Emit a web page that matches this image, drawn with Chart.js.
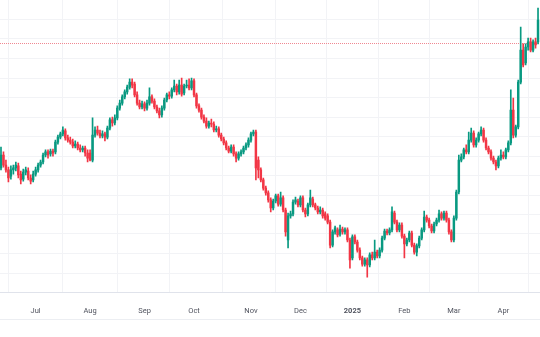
<!DOCTYPE html>
<html>
<head>
<meta charset="utf-8">
<title>Daily candles</title>
<script src="https://cdn.jsdelivr.net/npm/chart.js@4.4.1/dist/chart.umd.min.js"></script>
<style>
  html, body { margin: 0; padding: 0; background: #ffffff; }
  #wrap { width: 540px; height: 337px; }
</style>
</head>
<body>
<div id="wrap"><canvas id="chart" width="540" height="337"></canvas></div>
<script>
// One candle per trading day, mid-June 2024 -> mid-April 2025
const opens = [
  112.6, 115.9, 113.3, 112.1, 110.5, 112.1, 112.6, 113.1, 111.0, 109.7,
  111.5, 111.8, 110.0, 109.5, 111.0, 112.1, 113.3, 114.1, 115.9, 116.7,
  116.2, 116.9, 116.7, 119.2, 120.5, 121.3, 122.1, 120.3, 119.7, 119.2,
  118.2, 118.7, 117.7, 117.2, 117.7, 116.4, 116.4, 114.6, 121.0, 122.3,
  121.5, 120.8, 121.3, 120.5, 122.8, 124.9, 124.1, 125.4, 127.9, 129.2,
  130.8, 132.1, 133.3, 134.6, 134.1, 131.3, 129.2, 128.2, 129.0, 127.9,
  129.2, 130.8, 129.7, 128.2, 127.2, 126.2, 127.9, 130.0, 131.3, 131.0,
  132.6, 133.6, 132.1, 133.8, 131.8, 133.6, 133.8, 133.1, 134.9, 131.3,
  128.5, 127.4, 125.6, 124.6, 123.3, 124.1, 123.8, 122.3, 122.6, 121.0,
  120.0, 119.0, 117.7, 116.9, 117.9, 116.2, 115.1, 116.2, 116.7, 117.7,
  118.5, 119.7, 121.3, 121.8, 114.6, 112.1, 109.5, 107.4, 106.2, 104.4,
  102.3, 104.1, 105.4, 103.3, 104.9, 101.8, 94.1, 100.3, 100.8, 103.8,
  104.1, 103.1, 104.9, 101.8, 100.8, 103.1, 104.6, 103.1, 102.3, 101.3,
  101.8, 100.8, 100.3, 98.7, 92.8, 96.2, 96.7, 95.6, 96.9, 96.2,
  96.7, 94.1, 89.5, 94.9, 93.6, 91.5, 89.5, 87.9, 89.0, 87.7,
  90.3, 89.5, 91.0, 90.0, 91.5, 94.6, 96.4, 95.9, 96.7, 101.0,
  98.7, 96.7, 97.9, 95.1, 93.1, 94.1, 95.9, 92.8, 91.0, 92.6,
  94.6, 96.7, 100.0, 99.2, 97.7, 96.4, 98.2, 99.2, 100.8, 99.7,
  101.0, 99.2, 96.2, 94.1, 99.7, 106.4, 114.6, 115.4, 117.2, 116.7,
  119.7, 121.5, 118.5, 119.7, 121.3, 122.3, 119.7, 117.7, 116.7, 115.1,
  114.1, 113.1, 115.1, 115.9, 115.4, 117.2, 119.0, 127.4, 121.0, 123.1,
  134.6, 142.8, 139.5, 143.6, 144.9, 142.8, 144.9, 144.9
];
const highs = [
  117.9, 116.7, 114.6, 112.8, 113.1, 113.3, 114.1, 113.8, 111.8, 112.3,
  112.8, 112.6, 110.8, 111.8, 112.8, 113.8, 114.6, 116.4, 117.2, 117.2,
  117.4, 117.4, 119.7, 121.0, 121.8, 123.1, 122.6, 121.0, 120.5, 120.0,
  119.5, 119.2, 118.5, 118.2, 118.2, 117.2, 117.2, 125.4, 123.1, 123.3,
  122.3, 122.1, 121.8, 123.3, 125.4, 125.6, 126.2, 128.5, 130.0, 131.3,
  132.6, 133.8, 135.4, 135.4, 134.6, 132.1, 130.0, 129.7, 129.5, 130.0,
  133.1, 131.3, 130.3, 128.7, 127.9, 128.5, 130.5, 131.8, 132.1, 133.1,
  135.1, 134.1, 135.1, 135.6, 134.1, 135.1, 135.4, 135.6, 135.4, 131.8,
  129.0, 127.9, 126.2, 125.4, 124.6, 125.1, 124.4, 123.3, 123.1, 121.5,
  120.5, 119.5, 118.2, 118.5, 118.5, 116.7, 116.7, 117.2, 118.2, 119.0,
  120.3, 121.8, 122.3, 122.3, 115.4, 112.6, 110.0, 107.9, 106.7, 104.9,
  104.6, 105.9, 105.9, 106.4, 105.4, 102.3, 101.0, 101.5, 104.4, 105.1,
  104.6, 105.4, 105.4, 102.3, 103.6, 106.9, 105.1, 103.6, 102.8, 102.6,
  102.3, 101.3, 100.8, 99.2, 96.7, 97.7, 97.2, 97.9, 97.4, 97.2,
  97.2, 94.6, 95.4, 95.4, 94.1, 92.1, 90.0, 89.5, 89.5, 90.8,
  91.0, 94.1, 91.5, 92.1, 95.1, 96.9, 96.9, 97.2, 102.6, 101.5,
  99.2, 98.5, 98.5, 95.6, 94.6, 96.4, 96.4, 93.3, 93.1, 95.1,
  97.2, 101.5, 100.5, 99.7, 98.2, 98.7, 99.7, 101.8, 101.3, 101.5,
  101.5, 99.7, 96.7, 100.3, 106.9, 115.9, 116.2, 117.7, 118.5, 121.8,
  122.8, 122.1, 120.3, 121.8, 123.1, 122.8, 120.3, 118.2, 117.2, 115.6,
  114.6, 115.6, 117.2, 116.7, 117.7, 119.5, 132.6, 130.5, 123.6, 135.1,
  148.7, 144.4, 144.4, 145.9, 145.9, 145.4, 145.9, 153.6
];
const lows = [
  112.1, 112.8, 111.5, 109.0, 109.7, 111.0, 111.8, 110.0, 108.5, 109.2,
  110.8, 109.5, 108.5, 109.0, 110.5, 111.5, 112.8, 113.6, 115.4, 115.1,
  115.6, 115.6, 116.2, 118.7, 120.0, 120.8, 119.7, 119.2, 118.7, 117.7,
  117.7, 117.2, 116.7, 116.7, 115.6, 114.1, 114.4, 114.1, 120.5, 121.0,
  120.3, 120.3, 119.5, 120.0, 122.3, 123.3, 123.6, 124.9, 127.4, 128.7,
  130.3, 131.5, 132.8, 133.1, 130.8, 128.7, 127.7, 127.7, 127.2, 127.4,
  128.7, 129.2, 127.7, 126.7, 125.4, 125.6, 127.4, 129.5, 130.3, 130.5,
  132.1, 131.3, 131.5, 131.0, 131.3, 133.1, 132.6, 132.6, 130.8, 127.9,
  126.9, 125.1, 124.1, 122.8, 122.8, 123.1, 121.8, 121.8, 120.5, 119.5,
  118.5, 117.2, 116.4, 116.4, 115.6, 114.1, 114.6, 115.6, 116.2, 117.2,
  117.9, 119.2, 120.8, 109.5, 110.0, 109.0, 106.9, 105.6, 103.8, 101.3,
  101.8, 103.6, 102.8, 102.8, 101.3, 95.1, 92.1, 99.7, 100.3, 103.3,
  102.6, 102.6, 101.3, 100.0, 100.3, 102.6, 102.6, 101.8, 100.8, 100.8,
  99.7, 99.2, 98.2, 92.1, 92.3, 95.6, 94.9, 95.1, 95.6, 95.6,
  93.6, 86.9, 89.0, 93.1, 91.0, 89.0, 87.4, 87.4, 84.6, 87.2,
  89.0, 89.0, 89.5, 89.5, 91.0, 94.1, 95.4, 95.4, 96.2, 98.2,
  96.2, 96.2, 94.6, 89.5, 92.6, 93.6, 92.3, 90.5, 90.0, 92.1,
  94.1, 96.2, 98.7, 97.2, 95.9, 95.9, 97.7, 98.7, 99.2, 99.2,
  98.7, 95.6, 93.6, 93.6, 99.2, 105.9, 114.1, 114.9, 116.2, 116.2,
  119.2, 117.9, 117.9, 119.2, 120.8, 119.2, 117.2, 116.2, 114.6, 113.6,
  112.1, 112.6, 114.6, 114.9, 114.9, 116.7, 118.5, 120.3, 120.5, 122.6,
  134.1, 138.5, 139.0, 142.8, 142.3, 142.3, 143.3, 144.4
];
const closes = [
  115.9, 113.3, 112.1, 110.0, 112.1, 112.6, 113.3, 110.8, 109.5, 111.5,
  112.1, 110.0, 109.2, 111.0, 112.1, 113.3, 114.1, 115.9, 116.7, 115.9,
  116.9, 116.4, 119.2, 120.5, 121.3, 122.3, 120.3, 119.7, 119.2, 118.2,
  118.7, 117.7, 117.2, 117.7, 116.4, 115.1, 114.6, 121.0, 122.3, 121.5,
  120.8, 121.3, 120.5, 122.8, 124.9, 124.1, 125.4, 127.9, 129.2, 130.8,
  132.1, 133.3, 134.6, 133.8, 131.3, 129.2, 128.2, 129.0, 127.9, 129.2,
  130.8, 129.7, 128.2, 127.2, 126.2, 127.9, 130.0, 131.3, 131.0, 132.6,
  133.6, 132.1, 133.8, 131.5, 133.6, 133.8, 133.1, 134.9, 131.3, 128.5,
  127.4, 125.6, 124.6, 123.3, 124.1, 123.8, 122.3, 122.6, 121.0, 120.0,
  119.0, 117.7, 116.9, 117.9, 116.2, 115.1, 116.2, 116.7, 117.7, 118.5,
  119.7, 121.3, 121.8, 112.6, 112.1, 109.5, 107.4, 106.2, 104.4, 102.3,
  104.1, 105.4, 103.3, 104.9, 101.8, 96.2, 100.3, 100.8, 103.8, 104.4,
  103.1, 104.9, 101.8, 100.8, 103.1, 104.9, 103.1, 102.3, 101.3, 101.8,
  100.3, 99.7, 98.7, 92.8, 96.2, 97.2, 95.4, 96.9, 96.2, 96.7,
  94.1, 89.0, 94.9, 93.6, 91.5, 89.5, 87.9, 89.0, 87.7, 90.3,
  89.5, 91.0, 90.0, 91.5, 94.6, 96.4, 95.9, 96.7, 101.3, 98.7,
  96.7, 97.9, 95.1, 93.1, 94.1, 95.9, 92.8, 91.0, 92.6, 94.6,
  96.7, 100.0, 99.2, 97.7, 96.4, 98.2, 99.2, 100.8, 99.7, 101.0,
  99.2, 96.2, 94.1, 99.7, 106.4, 114.6, 115.4, 117.2, 116.7, 119.7,
  121.5, 118.5, 119.7, 121.3, 122.3, 119.7, 117.7, 116.7, 115.1, 114.1,
  113.1, 115.1, 115.9, 115.4, 117.2, 119.0, 127.4, 121.0, 123.1, 134.6,
  142.8, 139.0, 143.6, 144.9, 142.8, 144.9, 144.1, 150.5
];

// Month boundaries (candle index where each month starts) and their labels
const monthTicks = [14, 36, 58, 78, 101, 121, 142, 163, 183, 203];
const monthLabels = ['Jul', 'Aug', 'Sep', 'Oct', 'Nov', 'Dec', '2025', 'Feb', 'Mar', 'Apr'];

// Dotted horizontal price line
const refPrice = 144.7;

const UP = '#089981';
const DOWN = '#f23645';
const GRID = '#f2f3f6';

const candleColors = closes.map((c, i) => c >= opens[i] ? UP : DOWN);
const wicks = closes.map((c, i) => ({ x: i, y: [lows[i], highs[i]] }));
const bodies = closes.map((c, i) => ({ x: i, y: [opens[i], c] }));

const extraLines = {
  id: 'extraLines',
  beforeDatasetsDraw(chart) {
    const { ctx, chartArea, scales } = chart;
    const y = Math.round(scales.y.getPixelForValue(refPrice)) + 0.5;
    ctx.save();
    ctx.strokeStyle = '#f08891';
    ctx.lineWidth = 1;
    ctx.setLineDash([1, 1]);
    ctx.beginPath();
    ctx.moveTo(chartArea.left, y);
    ctx.lineTo(chartArea.right, y);
    ctx.stroke();
    // lower edge of the time-scale strip
    ctx.setLineDash([]);
    ctx.strokeStyle = '#eceef2';
    const yb = Math.round(scales.x.bottom) + 0.5;
    ctx.beginPath();
    ctx.moveTo(chartArea.left, yb);
    ctx.lineTo(chartArea.right, yb);
    ctx.stroke();
    ctx.restore();
  }
};

new Chart(document.getElementById('chart'), {
  type: 'bar',
  data: {
    datasets: [
      {
        data: wicks,
        backgroundColor: candleColors,
        barThickness: 1,
        grouped: false,
        order: 2
      },
      {
        data: bodies,
        backgroundColor: candleColors,
        barThickness: 1.8,
        minBarLength: 1,
        grouped: false,
        order: 1
      }
    ]
  },
  options: {
    responsive: false,
    animation: false,
    devicePixelRatio: 1,
    layout: { padding: { left: 0, right: 0, top: 0, bottom: 18 } },
    plugins: {
      legend: { display: false },
      tooltip: { enabled: false }
    },
    scales: {
      x: {
        type: 'linear',
        min: -0.4,
        max: 217.8,
        offset: false,
        afterBuildTicks: s => { s.ticks = monthTicks.map(v => ({ value: v })); },
        afterFit: s => { s.height = 26.5; },
        ticks: {
          autoSkip: false,
          maxRotation: 0,
          padding: 14,
          color: '#50535e',
          font: ctx => ({
            family: 'Roboto, "Open Sans", sans-serif',
            size: 7.5,
            weight: monthLabels[ctx.index] === '2025' ? 'bold' : 'normal'
          }),
          callback: (v, i) => monthLabels[i]
        },
        grid: { color: GRID, drawTicks: false },
        border: { color: '#e0e3eb' }
      },
      y: {
        type: 'linear',
        min: 80.64,
        max: 155.64,
        afterFit: s => { s.width = 0; },
        afterBuildTicks: s => { s.ticks = s.ticks.filter(t => t.value < 152); },
        ticks: { display: false, stepSize: 5, includeBounds: false },
        grid: { color: GRID, drawTicks: false },
        border: { display: false }
      }
    }
  },
  plugins: [extraLines]
});
</script>
</body>
</html>
